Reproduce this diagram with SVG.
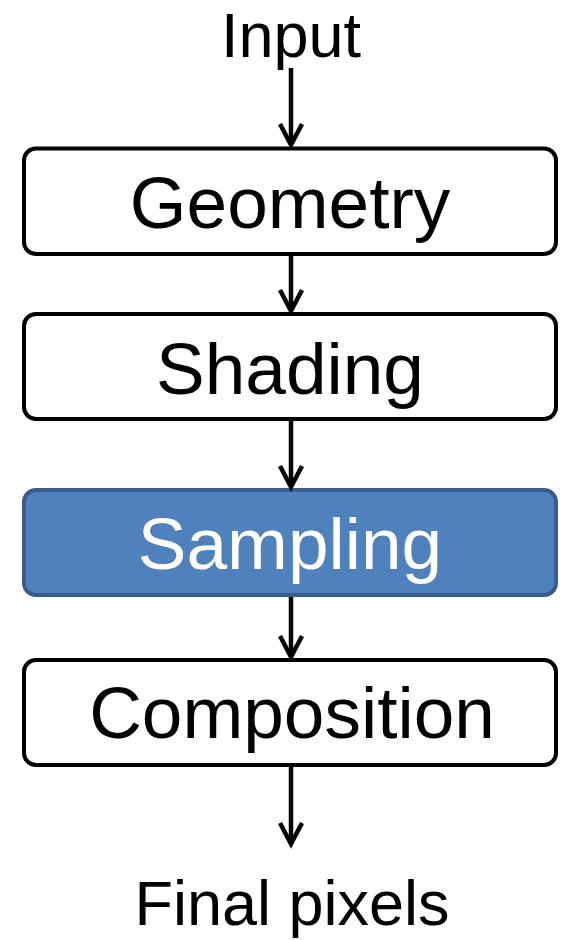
<svg xmlns="http://www.w3.org/2000/svg" width="565" height="940" viewBox="0 0 565 940">
<style>
.box{fill:#ffffff;stroke:#000000;stroke-width:4}
.hl{fill:#4F81BD;stroke:#385D8A;stroke-width:4}
.lbl{font-family:"Liberation Sans",Arial,sans-serif;font-size:73px;text-anchor:middle;fill:#000000}
.end{font-family:"Liberation Sans",Arial,sans-serif;font-size:63px;text-anchor:middle;fill:#000000}
.wt{fill:#ffffff}
.conn line{stroke:#000000;stroke-width:4.5}
.conn path{fill:none;stroke:#000000;stroke-width:4.5;stroke-linejoin:miter}
</style>
<rect width="565" height="940" fill="#ffffff"/>
<g id="input"><text class="end" x="291" y="57">Input</text></g>
<g id="geometry"><rect class="box" x="24" y="148.5" width="532" height="105.5" rx="12"/><text class="lbl" x="290" y="228">Geometry</text></g>
<g id="shading"><rect class="box" x="24" y="314" width="532" height="105" rx="12"/><text class="lbl" x="290" y="394">Shading</text></g>
<g id="sampling"><rect class="hl" x="24" y="490" width="532" height="105" rx="12"/><text class="lbl wt" x="290" y="569">Sampling</text></g>
<g id="composition"><rect class="box" x="24" y="660" width="532" height="105" rx="12"/><text class="lbl" x="292" y="738">Composition</text></g>
<g id="final"><text class="end" x="292" y="925">Final pixels</text></g>
<g id="connectors" class="conn">
<line x1="291" y1="68" x2="291" y2="144"/><path d="M280,124 L291,145 L302,124"/>
<line x1="291" y1="256" x2="291" y2="310"/><path d="M280,290 L291,311 L302,290"/>
<line x1="291" y1="421" x2="291" y2="486"/><path d="M280,466 L291,487 L302,466"/>
<line x1="291" y1="597" x2="291" y2="656"/><path d="M280,636 L291,657 L302,636"/>
<line x1="291" y1="767" x2="291" y2="843"/><path d="M280,823 L291,844 L302,823"/>
</g>
</svg>
